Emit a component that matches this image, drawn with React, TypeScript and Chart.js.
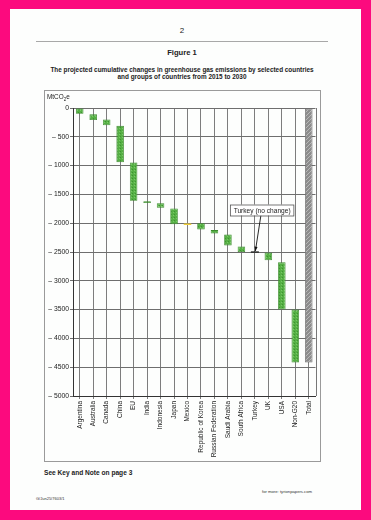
import React, { useEffect, useRef } from "react";
import { Chart, registerables } from "chart.js";

Chart.register(...registerables);

const categories = [
  "Argentina", "Australia", "Canada", "China", "EU", "India", "Indonesia", "Japan",
  "Mexico", "Republic of Korea", "Russian Federation", "Saudi Arabia", "South Africa",
  "Turkey", "UK", "USA", "Non-G20", "Total",
];
const barStart = [0, -110, -200, -310, -945, -1620, -1655, -1745, -2030, -2000, -2120, -2195, -2405, -2500, -2510, -2680, -3500, 0];
const barEnd = [-100, -210, -300, -940, -1610, -1650, -1730, -2020, -2005, -2110, -2180, -2385, -2500, -2500, -2645, -3500, -4420, -4420];
const barKind = ["dec", "dec", "dec", "dec", "dec", "dec", "dec", "dec", "inc", "dec", "dec", "dec", "dec", "none", "dec", "dec", "dec", "total"];
const yTicks = [0, -500, -1000, -1500, -2000, -2500, -3000, -3500, -4000, -4500, -5000];
const turkeyIndex = 13;
const annotationText = "Turkey (no change)";

const FONT = "'Liberation Sans', Arial, sans-serif";

function makeGreenPattern(): CanvasPattern | string {
  const c = document.createElement("canvas");
  c.width = 3; c.height = 3;
  const g = c.getContext("2d");
  if (!g) return "#56b045";
  g.fillStyle = "#56b045";
  g.fillRect(0, 0, 3, 3);
  g.fillStyle = "#3d9430";
  g.fillRect(1, 1, 1, 1);
  g.fillStyle = "#78c866";
  g.fillRect(0, 2, 1, 1);
  return g.createPattern(c, "repeat") || "#56b045";
}

function makeGrayPattern(): CanvasPattern | string {
  const c = document.createElement("canvas");
  c.width = 4; c.height = 4;
  const g = c.getContext("2d");
  if (!g) return "#8c8c8c";
  g.fillStyle = "#8c8c8c";
  g.fillRect(0, 0, 4, 4);
  g.fillStyle = "#b8b8b8";
  for (let i = 0; i < 4; i++) g.fillRect(i, 3 - i, 1, 1);
  return g.createPattern(c, "repeat") || "#8c8c8c";
}

const frameAndNote = {
  id: "frameAndNote",
  afterDatasetsDraw(chart: any) {
    const ctx = chart.ctx;
    const a = chart.chartArea;
    const xs = chart.scales.x;
    const ys = chart.scales.y;
    ctx.save();
    ctx.strokeStyle = "#777";
    ctx.lineWidth = 1;
    ctx.beginPath();
    ctx.moveTo(Math.round(a.right) + 0.5, a.top);
    ctx.lineTo(Math.round(a.right) + 0.5, a.bottom);
    ctx.stroke();

    const x = xs.getPixelForValue(turkeyIndex);
    const y = ys.getPixelForValue(barEnd[turkeyIndex]);
    ctx.strokeStyle = "#111";
    ctx.lineWidth = 1.2;
    ctx.beginPath();
    ctx.moveTo(x - 4, y);
    ctx.lineTo(x + 4, y);
    ctx.stroke();

    const sx = x + 6, sy = y - 36.5;
    const ex = x + 0.5, ey = y - 1;
    ctx.lineWidth = 0.9;
    ctx.beginPath();
    ctx.moveTo(sx, sy);
    ctx.lineTo(ex, ey);
    ctx.stroke();
    const ang = Math.atan2(ey - sy, ex - sx);
    ctx.fillStyle = "#111";
    ctx.beginPath();
    ctx.moveTo(ex, ey);
    ctx.lineTo(ex - 4.5 * Math.cos(ang - 0.35), ey - 4.5 * Math.sin(ang - 0.35));
    ctx.lineTo(ex - 4.5 * Math.cos(ang + 0.35), ey - 4.5 * Math.sin(ang + 0.35));
    ctx.closePath();
    ctx.fill();

    const bl = x - 25, bt = y - 47.5, bw = 63.5, bh = 11;
    ctx.fillStyle = "#fff";
    ctx.fillRect(bl, bt, bw, bh);
    ctx.strokeStyle = "#555";
    ctx.lineWidth = 0.8;
    ctx.strokeRect(bl + 0.5, bt + 0.5, bw, bh);
    ctx.fillStyle = "#222";
    ctx.font = `6.6px ${FONT}`;
    ctx.textAlign = "center";
    ctx.textBaseline = "middle";
    ctx.fillText(annotationText, bl + bw / 2 + 0.5, bt + bh / 2 + 1);
    ctx.restore();
  },
};

function ChartBox() {
  const ref = useRef<HTMLCanvasElement | null>(null);
  useEffect(() => {
    if (!ref.current) return;
    const green = makeGreenPattern();
    const gray = makeGrayPattern();
    const fills = barKind.map((k) =>
      k === "dec" ? green : k === "inc" ? "#f0cf3a" : k === "total" ? gray : "rgba(0,0,0,0)"
    );
    const borders = barKind.map((k) =>
      k === "dec" ? "#3b8a2c" : k === "inc" ? "#e6c22a" : k === "total" ? "#6e6e6e" : "rgba(0,0,0,0)"
    );
    const chart = new Chart(ref.current, {
      type: "bar",
      data: {
        labels: categories,
        datasets: [
          {
            data: barStart.map((s, i) => [s, barEnd[i]]) as any,
            backgroundColor: fills as any,
            borderColor: borders,
            borderWidth: barKind.map((k) => (k === "inc" || k === "none" ? 0 : 0.8)),
            borderSkipped: false,
            barPercentage: 0.56,
            categoryPercentage: 1,
          },
        ],
      },
      options: {
        responsive: false,
        animation: false,
        devicePixelRatio: 1,
        layout: { padding: { top: 18, right: 5.5, left: 0, bottom: 0 } },
        plugins: { legend: { display: false }, tooltip: { enabled: false } },
        scales: {
          x: {
            type: "category",
            offset: true,
            grid: { offset: false, color: "#7d7d7d", lineWidth: 1, tickLength: 3, drawOnChartArea: true },
            border: { display: true, color: "#333", width: 1 },
            ticks: {
              autoSkip: false,
              minRotation: 90,
              maxRotation: 90,
              padding: 2,
              color: "#222",
              font: { family: FONT, size: 6.5 },
            },
            afterFit: (s: any) => { s.height = 66; },
          },
          y: {
            min: -5000,
            max: 0,
            afterBuildTicks: (s: any) => { s.ticks = yTicks.map((v) => ({ value: v })); },
            grid: { color: "#6e6e6e", lineWidth: 1, tickLength: 3 },
            border: { display: true, color: "#333", width: 1 },
            ticks: {
              padding: 1,
              color: "#222",
              font: { family: FONT, size: 6.8 },
              callback: (v: any) => (Number(v) === 0 ? "0" : "\u2013 " + Math.abs(Number(v))),
            },
            afterFit: (s: any) => { s.width = 29; },
          },
        },
      },
      plugins: [frameAndNote],
    });
    return () => chart.destroy();
  }, []);
  return (
    <canvas
      ref={ref}
      width={277}
      height={372}
      style={{ position: "absolute", left: 44, top: 90, width: 277, height: 372 }}
    />
  );
}

export default function App() {
  const abs = (o: React.CSSProperties): React.CSSProperties => ({ position: "absolute", ...o });
  return (
    <div style={{ position: "fixed", left: 0, top: 0, width: 371, height: 520, background: "#fc0a7e", overflow: "hidden", fontFamily: FONT, color: "#222" }}>
      <div style={abs({ left: 10, top: 9, width: 351, height: 501, background: "#fdfefd" })} />
      <div style={abs({ left: 132, top: 26, width: 100, textAlign: "center", fontSize: 8, lineHeight: "10px" })}>2</div>
      <div style={abs({ left: 36, top: 41, width: 292, height: 1, background: "#a8a8a8" })} />
      <div style={abs({ left: 102, top: 48, width: 160, textAlign: "center", fontSize: 7.6, fontWeight: "bold", lineHeight: "10px" })}>Figure 1</div>
      <div style={abs({ left: 22, top: 66, width: 320, textAlign: "center", fontSize: 6.4, fontWeight: "bold", lineHeight: "7.2px" })}>
        The projected cumulative changes in greenhouse gas emissions by selected countries
        <br />
        and groups of countries from 2015 to 2030
      </div>
      <div style={abs({ left: 44, top: 90, width: 275, height: 370, border: "1px solid #9a9a9a" })} />
      <ChartBox />
      <div style={abs({ left: 47, top: 93, fontSize: 6.4, lineHeight: "8px" })}>
        MtCO<span style={{ fontSize: 4.5, verticalAlign: "-1.5px" }}>2</span>e
      </div>
      <div style={abs({ left: 44, top: 468, fontSize: 6.6, fontWeight: "bold", lineHeight: "9px" })}>See Key and Note on page 3</div>
      <div style={abs({ left: 262, top: 489, fontSize: 4.2, lineHeight: "6px", color: "#333" })}>for more: tyrionpapers.com</div>
      <div style={abs({ left: 36, top: 496, fontSize: 4, lineHeight: "6px", color: "#333" })}>G/Jun25/7603/1</div>
    </div>
  );
}
